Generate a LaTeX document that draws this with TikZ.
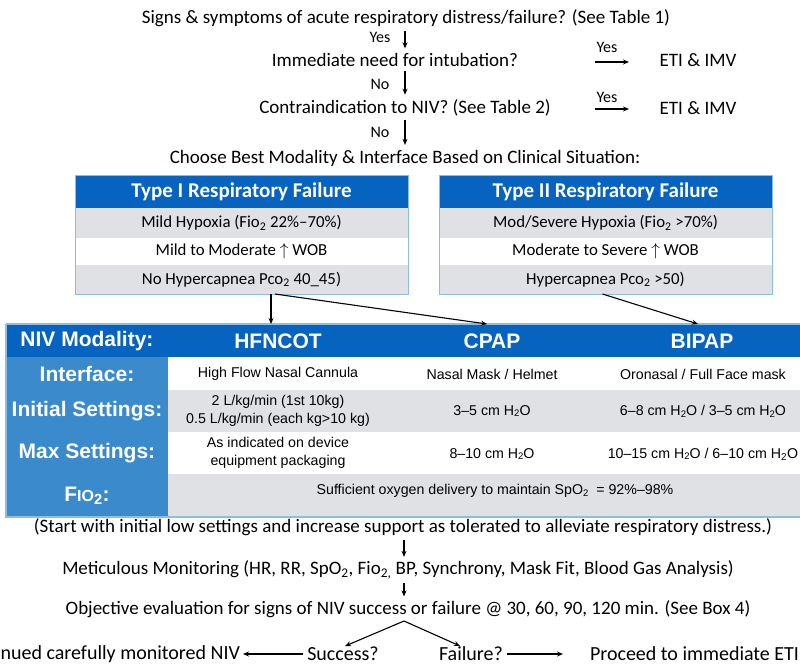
\documentclass[tikz,border=0pt]{standalone}
\usepackage{fontspec}
\setmainfont{Carlito}
\newfontfamily\arial{Liberation Sans}
\usetikzlibrary{arrows.meta}

\definecolor{hdrblue}{RGB}{6,99,192}
\definecolor{colblue}{RGB}{58,138,204}
\definecolor{rowgray}{RGB}{224,225,229}
\definecolor{edgeblue}{RGB}{140,190,228}

% small lowered digit for chemical formulas in the table
\newcommand{\lowtwo}{\raisebox{-0.25ex}{\fontsize{9.5}{9.5}\selectfont 2}}

\tikzset{
  flow/.style={font=\fontsize{19}{21}\selectfont, inner sep=1pt, outer sep=0pt},
  outcome/.style={font=\fontsize{20}{22}\selectfont, inner sep=1pt, outer sep=0pt},
  yn/.style={font=\fontsize{16}{18}\selectfont, inner sep=1pt},
  arr/.style={line width=1.1pt, -{Stealth[length=6pt,width=5pt]}},
  boxhdr/.style={fill=hdrblue, text=white, font=\bfseries\fontsize{21}{23}\selectfont,
    minimum width=333, minimum height=33, inner sep=0pt, outer sep=0pt},
  boxrow/.style={font=\fontsize{16.8}{19}\selectfont, minimum width=333,
    inner sep=0pt, outer sep=0pt},
  band/.style={inner sep=0pt, outer sep=0pt, minimum width=640, anchor=north west},
  thead/.style={text=white, font=\arial\bfseries\fontsize{21}{23}\selectfont, inner sep=0pt},
  tlabel/.style={text=white, font=\arial\bfseries\fontsize{21}{23}\selectfont, inner sep=0pt},
  tcell/.style={font=\arial\fontsize{14.2}{17.5}\selectfont, align=center, inner sep=0pt},
}

\begin{document}
\begin{tikzpicture}[x=1pt, y=-1pt]
\useasboundingbox (0,0) rectangle (800,666);

% ---------- decision chain ----------
\coordinate (ax) at (405,0);
\node[flow] (q1) at (406,18) {Signs \& symptoms of acute respiratory distress/failure? (See Table 1)};
\node[flow] (q2) at (395,60) {Immediate need for intubation?};
\node[flow] (q3) at (405,108) {Contraindication to NIV? (See Table 2)};
\node[flow] (q4) at (405,158) {Choose Best Modality \& Interface Based on Clinical Situation:};

\draw[arr] ([yshift=-3pt]q1.south -| ax) -- ([yshift=4pt]q2.north -| ax);
\draw[arr] ([yshift=-3pt]q2.south -| ax) -- ([yshift=4pt]q3.north -| ax);
\draw[arr] ([yshift=-3pt]q3.south -| ax) -- ([yshift=4pt]q4.north -| ax);
\node[yn] (l1) at (380,37) {Yes};
\node[yn] (l2) at (380,84) {No};
\node[yn] (l3) at (380,132) {No};

\node[flow] (e1) at (698,60) {ETI \& IMV};
\node[flow] (e2) at (698,108) {ETI \& IMV};
\coordinate (y1a) at (595,62);
\coordinate (y1b) at (629,62);
\coordinate (y2a) at (595,109);
\coordinate (y2b) at (629,109);
\draw[arr] (y1a) -- (y1b);
\draw[arr] (y2a) -- (y2b);
\node[yn] (l4) at (607,47) {Yes};
\node[yn] (l5) at (607,97) {Yes};

% ---------- respiratory failure boxes ----------
\node[boxhdr, anchor=north west] (t1h) at (75,175) {Type I Respiratory Failure};
\node[boxrow, fill=rowgray, minimum height=30, anchor=north] (t1a) at (t1h.south) {Mild Hypoxia (Fio\textsubscript{2} 22\%–70\%)};
\node[boxrow, fill=white, minimum height=27, anchor=north] (t1b) at (t1a.south) {Mild to Moderate $\uparrow$ WOB};
\node[boxrow, fill=rowgray, minimum height=29, anchor=north] (t1c) at (t1b.south) {No Hypercapnea Pco\textsubscript{2} 40\_45)};
\draw[edgeblue, line width=1pt] (t1h.north west) rectangle (t1c.south east);

\node[boxhdr, anchor=north west] (t2h) at (439,175) {Type II Respiratory Failure};
\node[boxrow, fill=rowgray, minimum height=30, anchor=north] (t2a) at (t2h.south) {Mod/Severe Hypoxia (Fio\textsubscript{2} >70\%)};
\node[boxrow, fill=white, minimum height=27, anchor=north] (t2b) at (t2a.south) {Moderate to Severe $\uparrow$ WOB};
\node[boxrow, fill=rowgray, minimum height=29, anchor=north] (t2c) at (t2b.south) {Hypercapnea Pco\textsubscript{2} >50)};
\draw[edgeblue, line width=1pt] (t2h.north west) rectangle (t2c.south east);

% ---------- NIV modality table ----------
\node[band, fill=hdrblue, minimum width=800, minimum height=33] (hrow) at (6,324) {};
\node[band, fill=colblue, minimum width=162, minimum height=160] (lcol) at (6,357) {};
\node[band, fill=white, minimum height=33] (r1) at (168,357) {};
\node[band, fill=rowgray, minimum height=42] (r2) at (168,390) {};
\node[band, fill=white, minimum height=42] (r3) at (168,432) {};
\node[band, fill=rowgray, minimum height=43] (r4) at (168,474) {};
\draw[edgeblue, line width=1.2pt] (hrow.north west) -- (hrow.north east);
\draw[edgeblue, line width=1.2pt] (hrow.north west) -- (lcol.south west) -- (r4.south east);

\node[thead] (hniv) at (87,341) {NIV Modality:};
\node[thead] (hhf) at (278,341) {HFNCOT};
\node[thead] (hcp) at (492,341) {CPAP};
\node[thead] (hbi) at (702,341) {BIPAP};

\node[tlabel] (lint) at (87,374) {Interface:};
\node[tlabel] (lini) at (87,411) {Initial Settings:};
\node[tlabel] (lmax) at (87,453) {Max Settings:};
\node[tlabel] (lfio) at (87,496) {F{\fontsize{16}{16}\selectfont IO}\textsubscript{2}:};

\node[tcell] (c11) at (278,374) {High Flow Nasal Cannula};
\node[tcell] (c12) at (492,374) {Nasal Mask / Helmet};
\node[tcell] (c13) at (703,374) {Oronasal / Full Face mask};
\node[tcell] (c21) at (278,411) {2 L/kg/min (1st 10kg)\\0.5 L/kg/min (each kg>10 kg)};
\node[tcell] (c22) at (492,411) {3–5 cm H\lowtwo O};
\node[tcell] (c23) at (703,411) {6–8 cm H\lowtwo O / 3–5 cm H\lowtwo O};
\node[tcell] (c31) at (278,453) {As indicated on device\\equipment packaging};
\node[tcell] (c32) at (492,454) {8–10 cm H\lowtwo O};
\node[tcell] (c33) at (703,454) {10–15 cm H\lowtwo O / 6–10 cm H\textsubscript{2}O};
\node[tcell] (c4) at (495,491) {Sufficient oxygen delivery to maintain SpO\lowtwo\ \ = 92\%–98\%};

% arrows from the failure boxes into the table
\coordinate (hfx) at ([xshift=-7pt]hhf.north);
\coordinate (hfd) at ([xshift=-3pt]hhf.north);
\coordinate (cpx) at ([xshift=-5pt]hcp.north);
\coordinate (bix) at ([xshift=-4pt]hbi.north);
\draw[arr] (t1c.south -| hfx) -- (hrow.north -| hfx);
\draw[arr] (t1c.south -| hfd) -- (hrow.north -| cpx);
\draw[arr] ([xshift=-3pt]t2c.south) -- (hrow.north -| bix);

% ---------- monitoring and outcome ----------
\coordinate (bx) at (404,0);
\node[flow] (s1) at (403,527) {(Start with initial low settings and increase support as tolerated to alleviate respiratory distress.)};
\node[flow] (s2) at (398,570) {Meticulous Monitoring (HR, RR, SpO\textsubscript{2}, Fio\textsubscript{2,} BP, Synchrony, Mask Fit, Blood Gas Analysis)};
\node[flow] (s3) at (408,609) {Objective evaluation for signs of NIV success or failure @ 30, 60, 90, 120 min. (See Box 4)};
\draw[arr] ([yshift=-3pt]s1.south -| bx) -- ([yshift=3pt]s2.north -| bx);
\draw[arr] ([yshift=-3pt]s2.south -| bx) -- ([yshift=3pt]s3.north -| bx);

\node[outcome] (succ) at (343,654) {Success?};
\node[outcome] (fail) at (471,654) {Failure?};
\node[outcome, anchor=east] (cont) at (241,654) {Continued carefully monitored NIV};
\node[outcome, anchor=west] (eti) at (589,654) {Proceed to immediate ETI};
\coordinate (apex) at (404,621);
\draw[arr] (apex) -- ([xshift=2pt]succ.north);
\draw[arr] (apex) -- ([xshift=-11pt]fail.north);
\draw[arr] ([xshift=-3pt]succ.west) -- ([xshift=2pt]cont.east);
\draw[arr] ([xshift=3pt]fail.east) -- ([xshift=-26pt]eti.west);
\end{tikzpicture}
\end{document}
